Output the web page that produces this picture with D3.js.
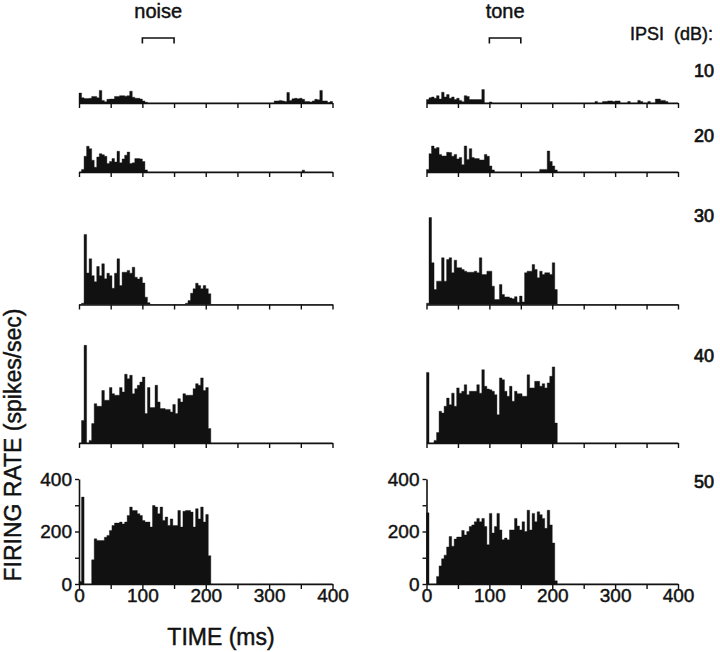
<!DOCTYPE html>
<html>
<head>
<meta charset="utf-8">
<script src="https://cdn.jsdelivr.net/npm/d3@7"></script>
<style>
  html, body { margin: 0; padding: 0; background: #fff; }
  svg { display: block; }
  text { font-family: "Liberation Sans", Arial, Helvetica, sans-serif; fill: #111; stroke: #111; stroke-width: 0.45px; }
</style>
</head>
<body>
<svg id="chart" width="720" height="652"></svg>
<script>
// ---------------- DATA ----------------
const binWidth = 4; // ms per bin
const columns = ["noise", "tone"];
const levels = ["10", "20", "30", "40", "50"];
const levelTitle = "IPSI (dB):";
const xTicks = [0, 50, 100, 150, 200, 250, 300, 350, 400];
const xTickLabels = [0, 100, 200, 300, 400];
const yTicks = [0, 100, 200, 300, 400];
const yTickLabels = [0, 200, 400];
const stimOn = 100, stimOff = 150;

// noise column, firing rate (spikes/sec) per 4-ms bin, 0-400 ms
const noise10 = [38,20,17,17,18,25,25,20,48,10,5,14,15,15,25,25,28,28,26,28,45,22,18,18,15,8,3,
  0,0,0,0,0,0,0,0,0,0,0,0,0,0,0,0,0,0,0,0,0,0,0,0,0,0,0,0,0,0,0,0,0,0,0,0,0,0,0,0,0,0,0,0,0,0,0,0,0,0,
  8,8,10,8,6,40,10,16,18,16,18,14,6,6,4,8,14,12,48,8,8,2,6];
const noise20 = [0,10,60,98,89,45,18,57,70,66,60,32,40,51,38,79,35,50,64,76,32,35,51,51,50,40,8,
  0,0,0,0,0,0,0,0,0,0,0,0,0,0,0,0,0,0,0,0,0,0,0,0,0,0,0,0,0,0,0,0,0,0,0,0,0,0,0,0,0,0,0,0,0,0,0,0,0,0,0,0,0,0,0,0,0,0,0,0,0,
  7,0,0,0,0,0,0,0];
const noise30 = [0,5,267,120,174,110,87,145,110,155,98,119,110,62,119,174,72,123,123,130,119,142,104,97,104,82,28,7,
  0,0,0,0,0,0,0,0,0,0,0,0,0,0,
  5,15,43,60,81,72,60,72,60,41,
  0,0,0,0,0,0,0,0,0,0,0,0,0,0,0,0,0,0,0,0,0,0,0,0,0,0,0,0,0,0,0,0,0,0,0,0,0,0,0,0,0,0,0,0,0,0,0,0];
const noise40 = [0,86,372,0,10,74,150,140,140,200,163,163,211,188,182,182,211,194,262,245,258,188,207,220,232,
  251,112,211,135,135,220,156,131,131,128,128,118,147,112,169,156,188,182,182,182,207,226,220,248,200,211,55,
  0,0,0,0,0,0,0,0,0,0,0,0,0,0,0,0,0,0,0,0,0,0,0,0,0,0,0,0,0,0,0,0,0,0,0,0,0,0,0,0,0,0,0,0,0,0,0,0];
const noise50 = [10,331,0,0,0,92,172,166,166,166,178,185,204,223,232,232,236,229,236,261,293,280,280,268,261,
  242,236,236,217,299,293,268,293,242,255,223,248,223,223,280,217,277,280,280,274,217,287,248,293,236,265,108,
  0,0,0,0,0,0,0,0,0,0,0,0,0,0,0,0,0,0,0,0,0,0,0,0,0,0,0,0,0,0,0,0,0,0,0,0,0,0,0,0,0,0,0,0,0,0,0,0];

// tone column
const tone10 = [13,20,23,18,28,15,41,23,32,18,23,13,18,10,5,28,25,13,13,13,13,13,51,0,0,4,
  0,0,0,0,0,0,0,0,0,0,0,0,0,0,0,0,0,0,0,0,0,0,0,0,0,0,0,0,0,0,0,0,0,0,0,0,0,0,0,0,0,
  6,0,0,6,6,8,8,6,8,8,0,0,0,6,0,0,0,10,6,0,0,6,0,0,15,15,10,10,6,0,0];
const tone20 = [10,70,99,90,93,67,61,61,75,74,60,67,50,55,28,99,48,89,55,51,51,46,46,67,60,23,8,
  0,0,0,0,0,0,0,0,0,0,0,0,0,0,0,0,0,0,
  10,10,10,80,40,23,8,
  0,0,0,0,0,0,0,0,0,0,0,0,0,0,0,0,0,0,0,0,0,0,0,0,0,0,0,0,0,0,0,0,0,0,0,0,0,0,0,0,0,0,0,0,0,0,0,0];
const tone30 = [5,331,159,57,89,89,178,89,171,178,121,169,140,140,133,127,123,123,123,127,121,178,114,114,127,
  127,70,19,19,76,38,29,29,25,22,30,9,32,10,121,127,127,152,133,102,127,114,121,121,114,159,57,
  0,0,0,0,0,0,0,0,0,0,0,0,0,0,0,0,0,0,0,0,0,0,0,0,0,0,0,0,0,0,0,0,0,0,0,0,0,0,0,0,0,0,0,0,0,0,0,0];
const tone40 = [269,0,0,10,40,121,114,140,171,146,190,140,210,190,197,222,184,197,197,197,222,190,279,216,206,
  203,197,184,108,248,241,197,178,216,159,197,188,188,178,178,260,210,210,235,235,216,226,210,229,254,290,76,
  0,0,0,0,0,0,0,0,0,0,0,0,0,0,0,0,0,0,0,0,0,0,0,0,0,0,0,0,0,0,0,0,0,0,0,0,0,0,0,0,0,0,0,0,0,0,0,0];
const tone50 = [271,0,0,0,29,69,96,110,141,181,144,171,179,179,204,187,200,219,225,237,250,237,250,219,150,
  269,194,219,269,206,169,175,169,206,206,250,221,206,237,200,281,206,269,237,275,264,250,212,281,225,156,12,
  0,0,0,0,0,0,0,0,0,0,0,0,0,0,0,0,0,0,0,0,0,0,0,0,0,0,0,0,0,0,0,0,0,0,0,0,0,0,0,0,0,0,0,0,0,0,0,0];

const noiseSeries = [noise10, noise20, noise30, noise40, noise50];
const toneSeries = [tone10, tone20, tone30, tone40, tone50];

// ---------------- LAYOUT ----------------
const svg = d3.select("#chart");
const ink = "#111";
const tickFont = "19px";
const colX = [
  d3.scaleLinear().domain([0, 400]).range([79, 332.5]),
  d3.scaleLinear().domain([0, 400]).range([426.5, 678])
];
const rowBase = [103, 172, 304.5, 443, 584];
const levelBaseline = [77, 142, 222, 362, 488];
const hScale = d3.scaleLinear().domain([0, 400]).range([0, 105]);

const area = (x) => d3.area()
  .x(d => x(d.t))
  .y0(0)
  .y1(d => -hScale(d.v))
  .curve(d3.curveStepAfter);

[noiseSeries, toneSeries].forEach((series, c) => {
  const x = colX[c];
  series.forEach((vals, r) => {
    const g = svg.append("g").attr("transform", `translate(0,${rowBase[r]})`);
    const pts = vals.map((v, i) => ({ t: i * binWidth, v }));
    pts.push({ t: 400, v: 0 });
    g.append("path").datum(pts)
      .attr("d", area(x))
      .attr("fill", ink)
      .attr("stroke", ink)
      .attr("stroke-width", 0.4);

    const isBottom = r === rowBase.length - 1;
    const ax = d3.axisBottom(x)
      .tickValues(xTicks)
      .tickSize(5)
      .tickSizeOuter(0)
      .tickPadding(0)
      .tickFormat(d => (isBottom && xTickLabels.includes(d)) ? d : "");
    const axg = g.append("g").call(ax);
    axg.select(".domain").attr("stroke", ink).attr("stroke-width", 1.6);
    axg.selectAll(".tick line").attr("stroke", ink).attr("stroke-width", 1.4);
    axg.selectAll(".tick text")
      .attr("fill", ink)
      .style("font-size", tickFont)
      .style("font-family", '"Liberation Sans", Arial, sans-serif');

    if (isBottom) {
      const yAbs = d3.scaleLinear().domain([0, 400]).range([rowBase[r], rowBase[r] - hScale(400)]);
      const yax = d3.axisLeft(yAbs)
        .tickValues(yTicks)
        .tickSize(4)
        .tickSizeOuter(0)
        .tickPadding(3)
        .tickFormat(d => yTickLabels.includes(d) ? d : "");
      const yg = svg.append("g").attr("transform", `translate(${x(0)},0)`).call(yax);
      yg.select(".domain").attr("stroke", ink).attr("stroke-width", 1.6);
      yg.selectAll(".tick line").attr("stroke", ink).attr("stroke-width", 1.4);
      yg.selectAll(".tick text")
        .attr("fill", ink)
        .style("font-size", tickFont)
        .style("font-family", '"Liberation Sans", Arial, sans-serif');
    }
  });

  // stimulus bracket
  svg.append("path")
    .attr("d", `M${x(stimOn)},43.5V38H${x(stimOff)}V43.5`)
    .attr("fill", "none")
    .attr("stroke", ink)
    .attr("stroke-width", 1.6);

  // column title
  svg.append("text")
    .attr("x", x((stimOn + stimOff) / 2))
    .attr("y", 17.5)
    .attr("text-anchor", "middle")
    .style("font-size", "20px")
    .text(columns[c]);
});

// level labels
svg.append("text")
  .attr("x", 713).attr("y", 40)
  .attr("text-anchor", "end")
  .style("font-size", "18px")
  .attr("xml:space", "preserve")
  .text(levelTitle.replace(" ", "  "));

levels.forEach((lv, r) => {
  svg.append("text")
    .attr("x", 714).attr("y", levelBaseline[r])
    .attr("text-anchor", "end")
    .style("font-size", "18px")
    .style("stroke-width", "0.7px")
    .text(lv);
});

// axis titles
svg.append("text")
  .attr("transform", "translate(21,445) rotate(-90)")
  .attr("text-anchor", "middle")
  .style("font-size", "23px")
  .text("FIRING RATE (spikes/sec)");

svg.append("text")
  .attr("x", 221).attr("y", 645)
  .attr("text-anchor", "middle")
  .style("font-size", "23px")
  .text("TIME (ms)");
</script>
</body>
</html>
